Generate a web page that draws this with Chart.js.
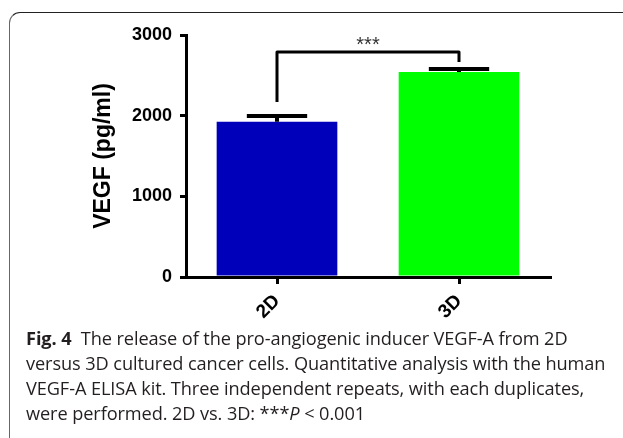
<!DOCTYPE html>
<html>
<head>
<meta charset="utf-8">
<script src="https://cdn.jsdelivr.net/npm/chart.js@4"></script>
<style>
  html, body { margin: 0; padding: 0; background: #fff; }
  body { width: 623px; height: 438px; position: relative; overflow: hidden; }
  #frame {
    position: absolute; left: 9px; top: 12px; width: 700px; height: 500px;
    border-top: 1.5px solid #222; border-left: 1.5px solid #666;
    border-top-left-radius: 11px;
  }
  #chart { position: absolute; left: 0; top: 0; }
  #caption {
    position: absolute; left: 26px; top: 326px;
    font-family: "Open Sans", sans-serif; font-size: 18.2px; line-height: 25px;
    color: #231f20; white-space: nowrap; letter-spacing: -0.1px;
  }
  #caption b { font-weight: 700; }
</style>
</head>
<body>
<div id="frame"></div>
<canvas id="chart" width="623" height="330"></canvas>
<div id="caption"><b>Fig. 4</b>&nbsp; The release of the pro-angiogenic inducer VEGF-A from 2D<br>versus 3D cultured cancer cells. Quantitative analysis with the human<br>VEGF-A ELISA kit. Three independent repeats, with each duplicates,<br>were performed. 2D vs. 3D: ***<i>P</i> &lt; 0.001</div>
<script>
// data
const categories = ['2D', '3D'];
const meanValues = [1925, 2540];
const errorValues = [72, 40];
const barColors = ['#0000bb', '#00ff00'];
const yTicks = [0, 1000, 2000, 3000];
// significance bracket: left leg end, top, right leg end (data units)
const bracketValues = [2170, 2790, 2665];
const bracketLabel = '***';

const errorBarPlugin = {
  id: 'errorBars',
  afterDatasetsDraw(chart) {
    const ctx = chart.ctx;
    const y = chart.scales.y;
    const bars = chart.getDatasetMeta(0).data;
    ctx.save();
    ctx.strokeStyle = '#000';
    ctx.lineWidth = 4;
    bars.forEach((bar, i) => {
      const top = y.getPixelForValue(meanValues[i] + errorValues[i]);
      const half = bar.width / 4;
      ctx.beginPath();
      ctx.moveTo(bar.x, bar.y);
      ctx.lineTo(bar.x, top);
      ctx.moveTo(bar.x - half, top);
      ctx.lineTo(bar.x + half, top);
      ctx.stroke();
    });

    // bracket between the two groups
    const x0 = bars[0].x, x1 = bars[1].x;
    const yTop = y.getPixelForValue(bracketValues[1]);
    ctx.lineWidth = 3;
    ctx.lineJoin = 'round';
    ctx.beginPath();
    ctx.moveTo(x0, y.getPixelForValue(bracketValues[0]));
    ctx.lineTo(x0, yTop);
    ctx.lineTo(x1, yTop);
    ctx.lineTo(x1, y.getPixelForValue(bracketValues[2]));
    ctx.stroke();

    ctx.fillStyle = '#333';
    ctx.font = '20px "Liberation Sans", Arial, sans-serif';
    ctx.textAlign = 'center';
    ctx.textBaseline = 'alphabetic';
    ctx.fillText(bracketLabel, (x0 + x1) / 2, yTop - 1);
    ctx.restore();
  }
};

const axisFont = { family: '"Liberation Sans", Arial, sans-serif', size: 18, weight: 'bold' };

new Chart(document.getElementById('chart').getContext('2d'), {
  type: 'bar',
  data: {
    labels: categories,
    datasets: [{
      data: meanValues,
      backgroundColor: barColors,
      borderWidth: 0,
      barPercentage: 0.663,
      categoryPercentage: 1.0
    }]
  },
  options: {
    responsive: false,
    animation: false,
    devicePixelRatio: 1,
    layout: { padding: { top: 35, right: 73, left: 0, bottom: 0 } },
    plugins: { legend: { display: false }, tooltip: { enabled: false } },
    scales: {
      x: {
        offset: true,
        grid: { display: true, drawOnChartArea: false, offset: false, tickLength: 7, lineWidth: 3, color: '#000' },
        border: { display: true, width: 3, color: '#000' },
        ticks: { minRotation: 45, maxRotation: 45, font: { ...axisFont, size: 19 }, color: '#000', padding: 6 },
        afterFit: s => { s.height = 53; }
      },
      y: {
        min: 0,
        max: 3000,
        afterBuildTicks: s => { s.ticks = yTicks.map(v => ({ value: v })); },
        grid: { display: true, drawOnChartArea: false, tickLength: 6, lineWidth: 3, color: '#000' },
        border: { display: true, width: 3, color: '#000' },
        ticks: { font: axisFont, color: '#000', padding: 8, callback: v => String(v) },
        title: {
          display: true,
          text: 'VEGF (pg/ml)',
          color: '#000',
          font: { family: '"Liberation Sans", Arial, sans-serif', size: 23, weight: 'bold' },
          padding: { top: 90, bottom: 0 }
        },
        afterFit: s => { s.width = 186; }
      }
    }
  },
  plugins: [errorBarPlugin]
});
</script>
</body>
</html>
